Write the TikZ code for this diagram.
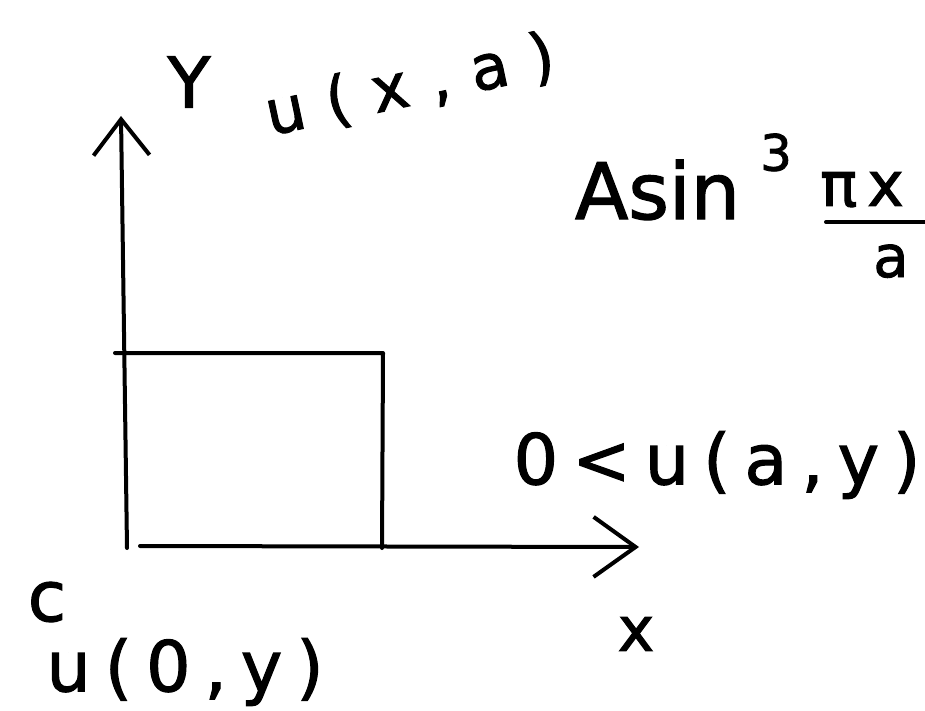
\documentclass[tikz,border=0pt]{standalone}
\usepackage{fontspec}
\setmainfont[FakeBold=1.6]{DejaVu Sans}
\newfontfamily\handA[LetterSpace=20,FakeBold=1.6]{DejaVu Sans}
\newfontfamily\handB[LetterSpace=36,FakeBold=1.6]{DejaVu Sans}
\newfontfamily\handC[LetterSpace=16,FakeBold=1.6]{DejaVu Sans}
\usetikzlibrary{arrows.meta}
\begin{document}
\begin{tikzpicture}[x=1pt,y=-1pt,
  axis/.style={line width=4pt, line cap=round, line join=round},
  yarrow/.style={axis, -{Straight Barb[length=36pt,width=56pt,line width=4pt]}},
  xarrow/.style={axis, -{Straight Barb[length=42pt,width=60pt,line width=4pt]}},
  lbl/.style={inner sep=0pt, outer sep=0pt}]
\useasboundingbox (0,0) rectangle (925,711);
% axes and rectangle corners
\coordinate (O)    at (127,548);
\coordinate (Ytop) at (121,116);
\coordinate (Xs)   at (140,546);
\coordinate (Xend) at (639,547);
\coordinate (TL)   at (115,353);
\coordinate (TR)   at (383,353);
\coordinate (BR)   at (382,548);
\draw[yarrow] (O) -- (Ytop);
\draw[xarrow] (Xs) -- (Xend);
\draw[axis] (TL) -- (TR) -- (BR);
% labels
\node[lbl, font=\fontsize{70}{76}\selectfont] (ylab) at (189,82) {Y};
\node[lbl, font=\fontsize{62}{66}\handB, rotate=12] (top) at (410,86) {u(x,a)};
% A sin^3 (pi x / a)
\node[lbl, anchor=base west, font=\fontsize{78}{82}\selectfont] (src) at (575,219)
  {Asin\hspace{20pt}\raisebox{0.62em}{\fontsize{50}{54}\selectfont 3}};
\node[lbl, anchor=base west, font=\fontsize{62}{66}\handC] (num) at (820,206) {πx};
\coordinate (barL) at (826,222);
\coordinate (barR) at (925,222);
\draw[axis] (barL) -- (barR);
\node[lbl, anchor=base, font=\fontsize{58}{60}\selectfont] (den) at (891,277) {a};
\node[lbl, font=\fontsize{70}{76}\handA] (right) at (717,465) {0<u(a,y)};
\node[lbl, font=\fontsize{70}{76}\selectfont] (clab) at (47,602) {c};
\node[lbl, font=\fontsize{62}{70}\selectfont] (xlab) at (636,634) {x};
\node[lbl, font=\fontsize{70}{76}\handA] (bottom) at (185,672) {u(0,y)};
\end{tikzpicture}
\end{document}
